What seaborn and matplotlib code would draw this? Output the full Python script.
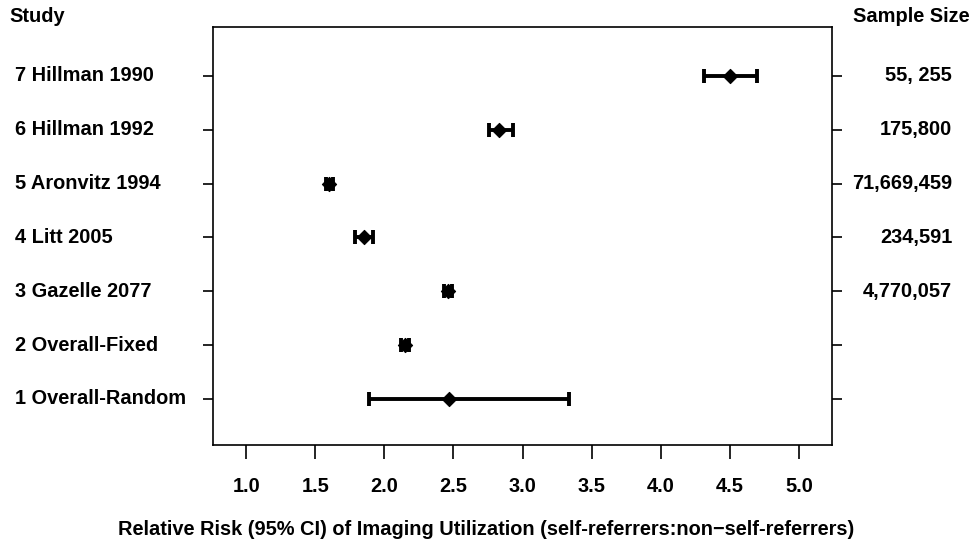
import matplotlib
matplotlib.use("Agg")
import matplotlib.pyplot as plt
import matplotlib.transforms as mtransforms
import seaborn as sns
import pandas as pd

studies = ["7 Hillman 1990", "6 Hillman 1992", "5 Aronvitz 1994", "4 Litt 2005",
           "3 Gazelle 2077", "2 Overall-Fixed", "1 Overall-Random"]
rows = [7, 6, 5, 4, 3, 2, 1]
rr = [4.50, 2.83, 1.60, 1.855, 2.46, 2.15, 2.47]
ci_low = [4.31, 2.76, 1.58, 1.79, 2.43, 2.12, 1.89]
ci_high = [4.70, 2.93, 1.63, 1.92, 2.49, 2.18, 3.34]
sample_sizes = ["55, 255", "175,800", "71,669,459", "234,591", "4,770,057", "", ""]
xticks = [1.0, 1.5, 2.0, 2.5, 3.0, 3.5, 4.0, 4.5, 5.0]
xlabel = "Relative Risk (95% CI) of Imaging Utilization (self-referrers:non\u2212self-referrers)"

df = pd.DataFrame({"study": studies, "row": rows, "rr": rr, "lo": ci_low, "hi": ci_high})

sns.set_theme(style="white")
plt.rcParams["font.family"] = ["Liberation Sans", "DejaVu Sans"]
plt.rcParams["font.weight"] = "bold"
plt.rcParams["text.color"] = "black"
plt.rcParams["axes.labelcolor"] = "black"
plt.rcParams["xtick.color"] = "black"
plt.rcParams["ytick.color"] = "black"

FS = 14.4
fig = plt.figure(figsize=(9.72, 5.48), dpi=100)
ax = fig.add_axes([213 / 972, 1 - 445 / 548, (832 - 213) / 972, (445 - 27) / 548])

# confidence intervals
ax.errorbar(df["rr"], df["row"],
            xerr=[df["rr"] - df["lo"], df["hi"] - df["rr"]],
            fmt="none", ecolor="black", elinewidth=2.8, capsize=5.2, capthick=2.8, zorder=2)
sns.scatterplot(data=df, x="rr", y="row", marker="D", s=52, color="black",
                edgecolor="black", linewidth=0.8, ax=ax, zorder=3, legend=False)

ax.set_xlim(0.76, 5.24)
ax.set_ylim(0.143, 7.91)
ax.set_xticks(xticks)
ax.set_xticklabels([f"{t:.1f}" for t in xticks], fontsize=FS, fontweight="bold")
ax.set_yticks(rows)
ax.set_yticklabels([])
ax.tick_params(axis="x", direction="out", length=10, width=1.2, pad=13, colors="black",
               bottom=True)
ax.tick_params(axis="y", direction="out", length=7, width=1.2, left=True, right=True,
               colors="black")
for s in ax.spines.values():
    s.set_visible(True)
    s.set_color("black")
    s.set_linewidth(1.2)

ax.set_xlabel(xlabel, fontsize=FS, fontweight="bold", color="black")
ax.xaxis.set_label_coords((486 - 213) / 619, (445 - 520) / 418)
ax.set_ylabel("")

trans = mtransforms.blended_transform_factory(fig.transFigure, ax.transData)
for lab, r, ss in zip(studies, rows, sample_sizes):
    ax.text(15 / 972, r, lab, transform=trans, ha="left", va="center",
            fontsize=FS, fontweight="bold", color="black")
    if ss:
        ax.text(952 / 972, r, ss, transform=trans, ha="right", va="center",
                fontsize=FS, fontweight="bold", color="black")

fig.text(9 / 972, 1 - 17 / 548, "Study", ha="left", va="center", fontsize=FS,
         fontweight="bold", color="black")
fig.text(853 / 972, 1 - 17 / 548, "Sample Size", ha="left", va="center", fontsize=FS,
         fontweight="bold", color="black")

fig.savefig("out.png", dpi=100, facecolor="white")
